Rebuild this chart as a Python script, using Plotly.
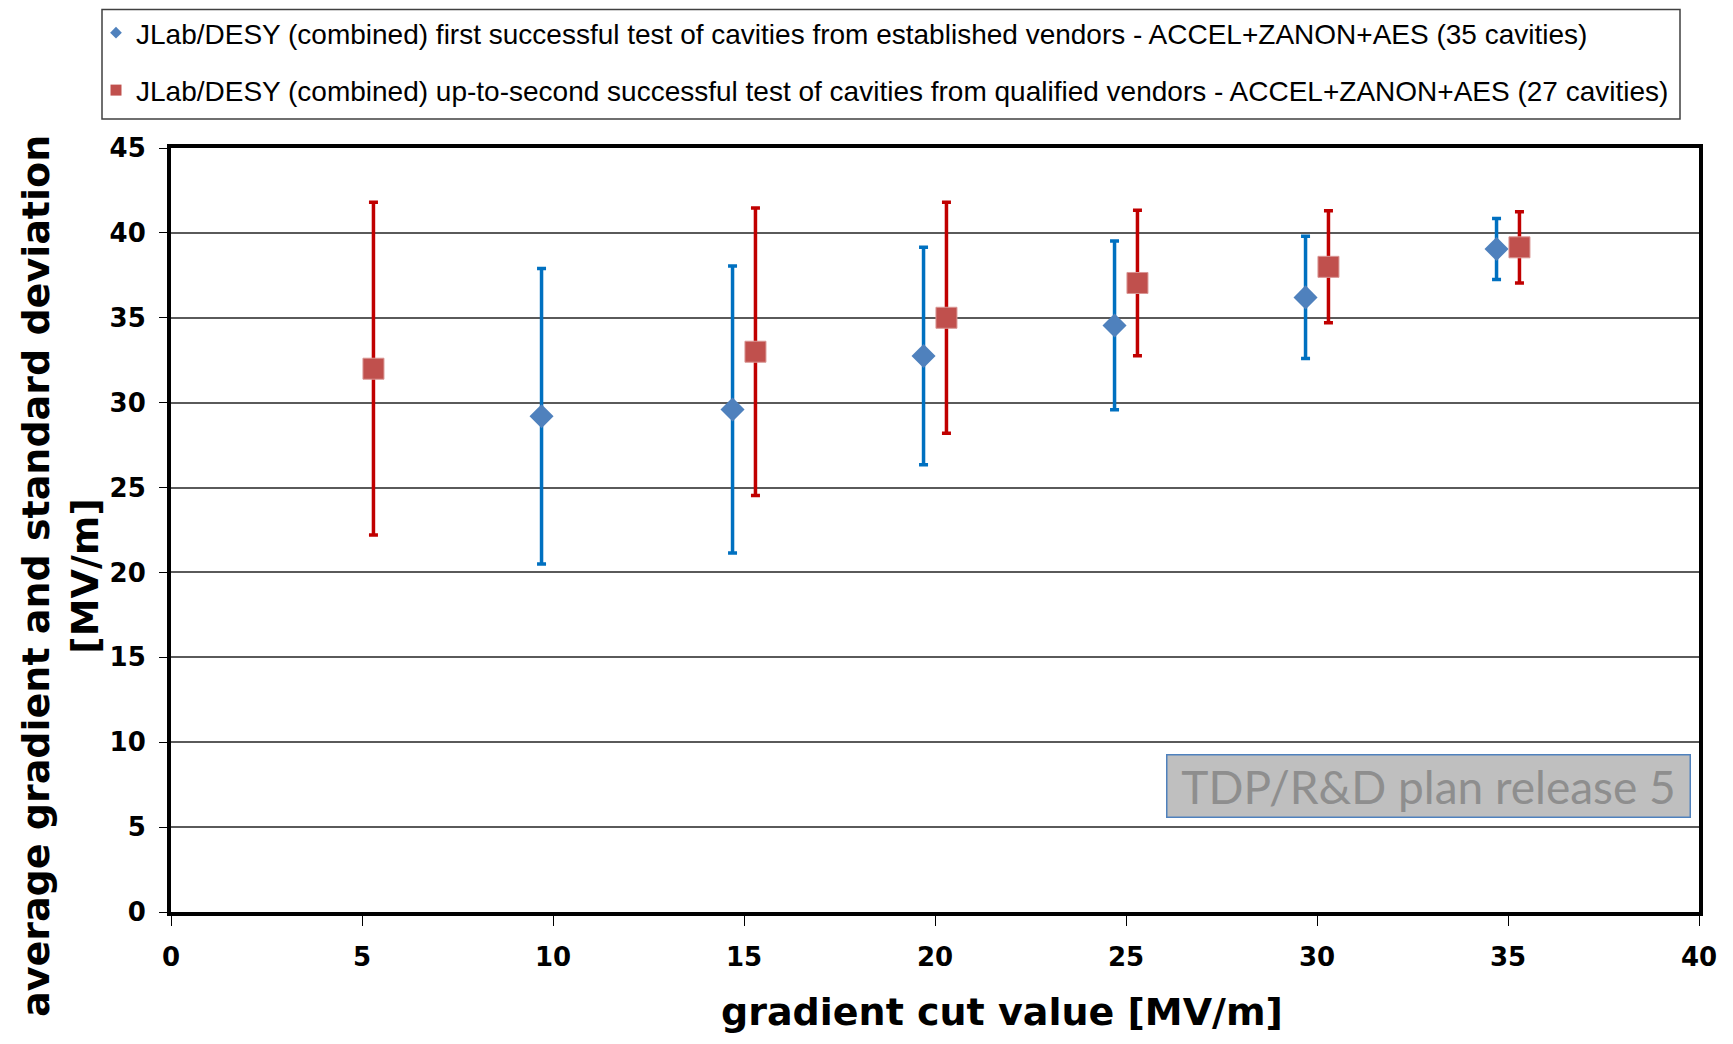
import plotly.graph_objects as go

# ---- data ----
blue_name = "JLab/DESY (combined) first successful test of cavities from established vendors - ACCEL+ZANON+AES (35 cavities)"
red_name = "JLab/DESY (combined) up-to-second successful test of cavities from qualified vendors - ACCEL+ZANON+AES (27 cavities)"

blue_x = [9.7, 14.7, 19.7, 24.7, 29.7, 34.7]
blue_mean = [29.2, 29.6, 32.75, 34.55, 36.2, 39.05]
blue_sd = [8.7, 8.45, 6.4, 4.97, 3.6, 1.8]

red_x = [5.3, 15.3, 20.3, 25.3, 30.3, 35.3]
red_mean = [32.0, 33.0, 35.0, 37.05, 38.0, 39.15]
red_sd = [9.8, 8.47, 6.8, 4.28, 3.3, 2.1]

x_ticks = [0, 5, 10, 15, 20, 25, 30, 35, 40]
y_ticks = [0, 5, 10, 15, 20, 25, 30, 35, 40, 45]

# page body has an 8px margin; work in reference pixel coords and offset
OFF = 8
W, H = 1733 - 2 * OFF, 1044 - 2 * OFF
PL, PR, PT, PB = 171, 1699, 148, 912          # plot area in reference pixels
L, T = PL - OFF, PT - OFF
R, B = W - (PR - OFF), H - (PB - OFF)
PW, PH = W - L - R, H - T - B


def px(xp):
    return (xp - OFF - L) / PW


def py(yp):
    return (H - B - (yp - OFF)) / PH


fig = go.Figure()

fig.add_trace(go.Scatter(
    x=blue_x, y=blue_mean, mode="markers", showlegend=False,
    marker=dict(symbol="diamond", size=18.5, color="#4F81BD"),
    error_y=dict(type="data", array=blue_sd, symmetric=True,
                 color="#0070C0", thickness=3.5, width=4.5),
))
fig.add_trace(go.Scatter(
    x=red_x, y=red_mean, mode="markers", showlegend=False,
    marker=dict(symbol="square", size=21, color="#C0504D",
                line=dict(color="#D99694", width=1)),
    error_y=dict(type="data", array=red_sd, symmetric=True,
                 color="#C00000", thickness=3.5, width=4.5),
))

# legend entries
fig.add_trace(go.Scatter(
    x=[None], y=[None], mode="markers", name=blue_name, legendgroup="a",
    marker=dict(symbol="diamond", size=9, color="#4F81BD"),
))
fig.add_trace(go.Scatter(
    x=[None], y=[None], mode="markers", name=red_name, legendgroup="b",
    marker=dict(symbol="square", size=11, color="#C0504D"),
))

tick_font = dict(family="DejaVu Sans", size=26, color="black", weight="bold")
title_font = dict(family="DejaVu Sans", size=38, color="black", weight="bold")

fig.update_layout(
    width=W, height=H,
    margin=dict(l=L, r=R, t=T, b=B, autoexpand=False),
    paper_bgcolor="white", plot_bgcolor="white",
    legend=dict(
        x=px(96), y=py(8), xanchor="left", yanchor="top",
        bgcolor="rgba(0,0,0,0)", borderwidth=0,
        font=dict(family="Liberation Sans", size=28, color="black"),
        traceorder="grouped", tracegroupgap=18, itemwidth=30,
    ),
    xaxis=dict(
        range=[0, 40], tickvals=x_ticks, ticktext=[str(v) for v in x_ticks],
        showgrid=False, zeroline=False,
        showline=True, linecolor="black", linewidth=4, mirror=True,
        ticks="outside", ticklen=10, tickwidth=1, tickcolor="black",
        tickfont=tick_font, ticklabelstandoff=9,
    ),
    yaxis=dict(
        range=[0, 45], tickvals=y_ticks, ticktext=[str(v) for v in y_ticks],
        showgrid=True, gridcolor="#5a5a5a", gridwidth=2, zeroline=False,
        showline=True, linecolor="black", linewidth=4, mirror=True,
        ticks="outside", ticklen=8, tickwidth=1, tickcolor="black",
        tickfont=tick_font, ticklabelstandoff=8,
    ),
    shapes=[
        dict(type="rect", xref="paper", yref="paper",
             x0=px(102), x1=px(1680), y0=py(9.5), y1=py(119),
             line=dict(color="#404040", width=1.5), fillcolor="rgba(0,0,0,0)"),
    ],
    annotations=[
        dict(text="average gradient and standard deviation<br>[MV/m]",
             xref="paper", yref="paper", x=px(60), y=py(576),
             xanchor="center", yanchor="middle", textangle=-90,
             showarrow=False, font=title_font),
        dict(text="gradient cut value [MV/m]",
             xref="paper", yref="paper", x=px(1002), y=py(1012),
             xanchor="center", yanchor="middle",
             showarrow=False, font=title_font),
        dict(text="TDP/R&amp;D plan release 5",
             xref="paper", yref="paper", x=px(1428), y=py(786),
             xanchor="center", yanchor="middle", showarrow=False,
             width=522, height=61, borderpad=0,
             bgcolor="#BFBFBF", bordercolor="#4F81BD", borderwidth=1.5,
             font=dict(family="Lato", size=46, color="#8E8E8E")),
    ],
)

fig.write_html("out.html")
